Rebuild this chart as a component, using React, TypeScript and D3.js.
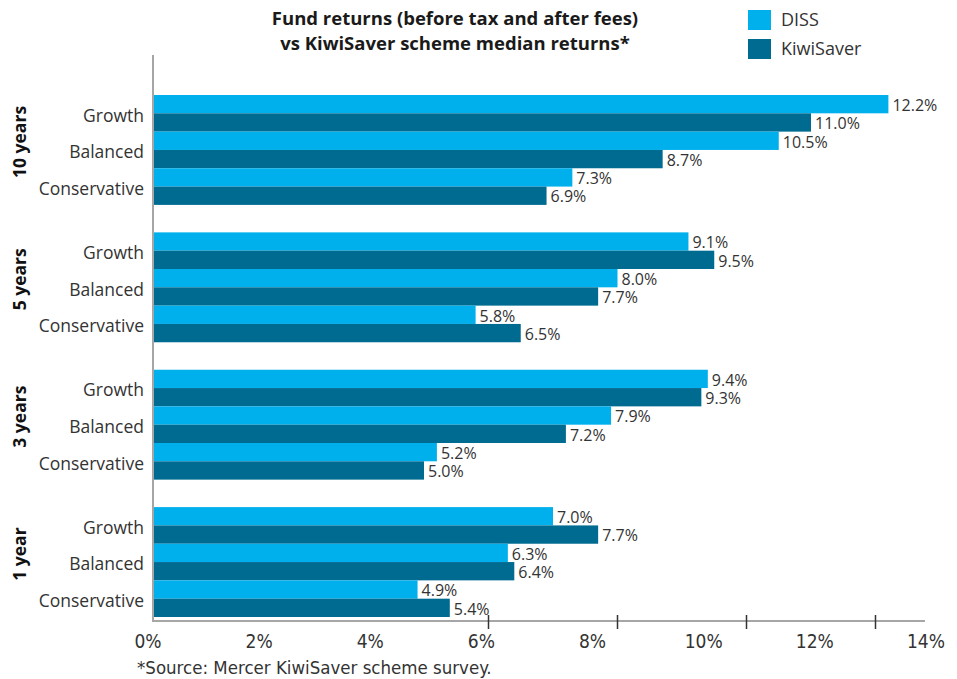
import React from 'react';
import * as d3 from 'd3';

const periods = ['10 years', '5 years', '3 years', '1 year'];
const funds = ['Growth', 'Balanced', 'Conservative'];
const seriesNames = ['DISS', 'KiwiSaver'];
const dissValues = [
  [12.2, 10.5, 7.3],
  [9.1, 8.0, 5.8],
  [9.4, 7.9, 5.2],
  [7.0, 6.3, 4.9],
];
const kiwiValues = [
  [11.0, 8.7, 6.9],
  [9.5, 7.7, 6.5],
  [9.3, 7.2, 5.0],
  [7.7, 6.4, 5.4],
];
const axisTickLabels = [0, 2, 4, 6, 8, 10, 12, 14];
const tickMarks = [6, 8, 10, 12];
const titleLines = ['Fund returns (before tax and after fees)', 'vs KiwiSaver scheme median returns*'];
const footnote = '*Source: Mercer KiwiSaver scheme survey.';

const colors = ['#00B0EC', '#006B91'];
const W = 957;
const H = 679;
const plotLeft = 153;
const axisY = 621;
const textColor = '#333333';
const bodyFont = "'Open Sans', 'Noto Sans', sans-serif";
const narrowFont = "'Liberation Sans Narrow', 'DejaVu Sans Condensed', sans-serif";

export default function App() {
  const x = d3.scaleLinear().domain([0, 14]).range([101.5, 101.5 + 64.5 * 14]);
  const xLabel = d3.scaleLinear().domain([0, 14]).range([148, 926]);
  const yGroup = d3.scaleBand<string>().domain(periods).range([95, 617]).paddingInner(0.2).paddingOuter(0);
  const yFund = d3.scaleBand<string>().domain(funds).range([0, yGroup.bandwidth()]);
  const ySeries = d3.scaleBand<string>().domain(seriesNames).range([0, yFund.bandwidth()]);

  const allValues = [dissValues, kiwiValues];

  return (
    <svg width={W} height={H} style={{ position: 'absolute', left: 0, top: 0, background: '#fff' }}>
      {/* Title */}
      {titleLines.map((t, i) => (
        <text
          key={t}
          x={455}
          y={25 + i * 25}
          textAnchor="middle"
          fontFamily="'Open Sans', sans-serif"
          fontWeight={700}
          fontSize={18.5}
          fill="#1a1a1a"
        >
          {t}
        </text>
      ))}

      {/* Legend */}
      {seriesNames.map((s, i) => (
        <g key={s} transform={`translate(748, ${10 + i * 29})`}>
          <rect width={23} height={20} fill={colors[i]} />
          <text x={33} y={10} dy="0.36em" fontFamily={bodyFont} fontSize={18} fill={textColor}>
            {s}
          </text>
        </g>
      ))}

      {/* Bars */}
      {periods.map((p, pi) => {
        const gy = yGroup(p) as number;
        return (
          <g key={p}>
            {funds.map((f, fi) => {
              const fy = gy + (yFund(f) as number);
              return seriesNames.map((s, si) => {
                const v = allValues[si][pi][fi];
                const by = fy + (ySeries(s) as number);
                const bh = ySeries.bandwidth();
                const xe = x(v);
                return (
                  <g key={`${f}-${s}`}>
                    <rect x={plotLeft} y={by} width={xe - plotLeft} height={bh} fill={colors[si]} />
                    <text
                      x={xe + 4}
                      y={by + bh / 2 + 1}
                      dy="0.36em"
                      fontFamily={bodyFont}
                      fontSize={16}
                      fill={textColor}
                    >
                      {`${v.toFixed(1)}%`}
                    </text>
                  </g>
                );
              });
            })}
            {funds.map((f) => (
              <text
                key={`lbl-${f}`}
                x={144}
                y={gy + (yFund(f) as number) + yFund.bandwidth() / 2 + 2}
                dy="0.36em"
                textAnchor="end"
                fontFamily={bodyFont}
                fontSize={17.5}
                fill={textColor}
              >
                {f}
              </text>
            ))}
            <text
              transform={`translate(20, ${gy + yGroup.bandwidth() / 2 - 8}) rotate(-90)`}
              textAnchor="middle"
              dy="0.36em"
              fontFamily={bodyFont}
              fontWeight={700}
              fontSize={17.5}
              fill="#111"
            >
              {p}
            </text>
          </g>
        );
      })}

      {/* Axes */}
      <line x1={plotLeft} x2={plotLeft} y1={55} y2={axisY + 1} stroke="#a6a6a6" strokeWidth={2} />
      <line x1={plotLeft} x2={925} y1={axisY} y2={axisY} stroke="#a6a6a6" strokeWidth={2} />
      {tickMarks.map((t) => (
        <line key={t} x1={x(t)} x2={x(t)} y1={615} y2={629} stroke="#333" strokeWidth={1.5} />
      ))}
      {axisTickLabels.map((t) => (
        <text
          key={t}
          x={xLabel(t)}
          y={641}
          dy="0.36em"
          textAnchor="middle"
          fontFamily={narrowFont}
          fontSize={19}
          fill={textColor}
        >
          {`${t}%`}
        </text>
      ))}

      {/* Footnote */}
      <text x={137} y={667} dy="0.36em" fontFamily={narrowFont} fontSize={18.5} fill={textColor}>
        {footnote}
      </text>
    </svg>
  );
}
